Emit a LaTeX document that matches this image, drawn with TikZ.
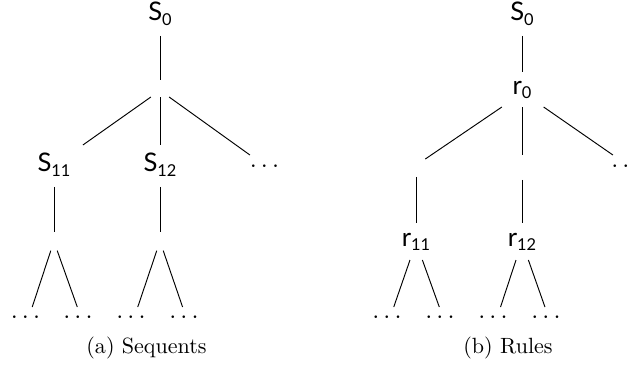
\documentclass[tikz,border=0pt]{standalone}
\usepackage{fontspec}
\newfontfamily\labfont{Lato}
\newcommand\lbl[2]{#1\raisebox{-2.2pt}{\fontsize{7.8}{8}\selectfont #2}}
\begin{document}
\begin{tikzpicture}[x=0.47619pt,y=-0.47619pt,
  every node/.style={inner sep=0pt,outer sep=0pt,rectangle},
  edge/.style={line width=0.45pt},
  slab/.style={font={\labfont\fontsize{12.2}{14}\selectfont},text height=8.5pt,text depth=2.79pt,minimum height=20pt},
  rlab/.style={font={\labfont\fontsize{12.2}{14}\selectfont},text height=8.5pt,text depth=4.21pt},
  hub/.style={minimum width=14.29pt},
  dts/.style={font=\fontsize{12}{14}\selectfont,text height=6pt,text depth=0pt,minimum width=14.29pt},
  leaf/.style={dts,minimum height=9.5pt},
  capt/.style={font=\fontsize{10.5}{12}\selectfont,anchor=base}]
\useasboundingbox (0,0) rectangle (630,365);
% ---- (a) Sequents
\node[slab,minimum width=19.05pt] (A0) at (160,15) {\lbl{S}{0}};
\node[hub,minimum height=8.1pt] (I1) at (160,88.5) {};
\node[slab,minimum width=30.48pt] (S11) at (54,166) {\lbl{S}{11}};
\node[slab,minimum width=30.48pt] (S12) at (160,166) {\lbl{S}{12}};
\node[dts,minimum height=10.48pt,minimum width=19.05pt] (D1) at (264.5,166) {$\cdots$};
\node[hub,minimum width=11.43pt,minimum height=8.9pt] (I2) at (54,241.3) {};
\node[hub,minimum width=11.43pt,minimum height=8.9pt] (I3) at (160,241.3) {};
\node[leaf] (L1) at (25.5,317) {$\cdots$};
\node[leaf] (L2) at (78,317) {$\cdots$};
\node[leaf] (L3) at (131,317) {$\cdots$};
\node[leaf] (L4) at (184,317) {$\cdots$};
\node[capt] (CA) at (146.5,353.5) {(a) Sequents};
\draw[edge] (A0.south) -- (I1.north);
\draw[edge] (I1.223) -- (S11.36);
\draw[edge] (I1.south) -- (S12.north);
\draw[edge] (I1.317) -- (D1.143);
\draw[edge] (S11.south) -- (I2.north);
\draw[edge] (I2.251) -- (L1.56);
\draw[edge] (I2.289) -- (L2.94);
\draw[edge] (S12.south) -- (I3.north);
\draw[edge] (I3.251) -- (L3.56);
\draw[edge] (I3.289) -- (L4.98);
% ---- (b) Rules
\node[slab,minimum width=19.05pt] (B0) at (522,15) {\lbl{S}{0}};
\node[rlab,minimum height=16.67pt,minimum width=23.81pt] (R0) at (522,89.5) {\lbl{r}{0}};
\node[hub,minimum height=8.57pt] (J1) at (416,168) {};
\node[hub,minimum height=11.9pt] (J2) at (522,167.5) {};
\node[dts,minimum height=10.48pt,minimum width=19.05pt] (D2) at (626,166) {$\cdots$};
\node[rlab,minimum height=17.62pt,minimum width=19.05pt] (R11) at (416,241.5) {\lbl{r}{11}};
\node[rlab,minimum height=17.62pt,minimum width=19.05pt] (R12) at (522,241.5) {\lbl{r}{12}};
\node[leaf] (M1) at (387,317) {$\cdots$};
\node[leaf] (M2) at (440,317) {$\cdots$};
\node[leaf] (M3) at (493,317) {$\cdots$};
\node[leaf] (M4) at (546,317) {$\cdots$};
\node[capt] (CB) at (508,353.5) {(b) Rules};
\draw[edge] (B0.south) -- (R0.north);
\draw[edge] (R0.221) -- (J1.44);
\draw[edge] (R0.south) -- (J2.north);
\draw[edge] (R0.321) -- (D2.140);
\draw[edge] (J1.south) -- (R11.north);
\draw[edge] (J2.south) -- (R12.north);
\draw[edge] (R11.252) -- (M1.56);
\draw[edge] (R11.289) -- (M2.94);
\draw[edge] (R12.252) -- (M3.53);
\draw[edge] (R12.289) -- (M4.96);
\end{tikzpicture}
\end{document}
